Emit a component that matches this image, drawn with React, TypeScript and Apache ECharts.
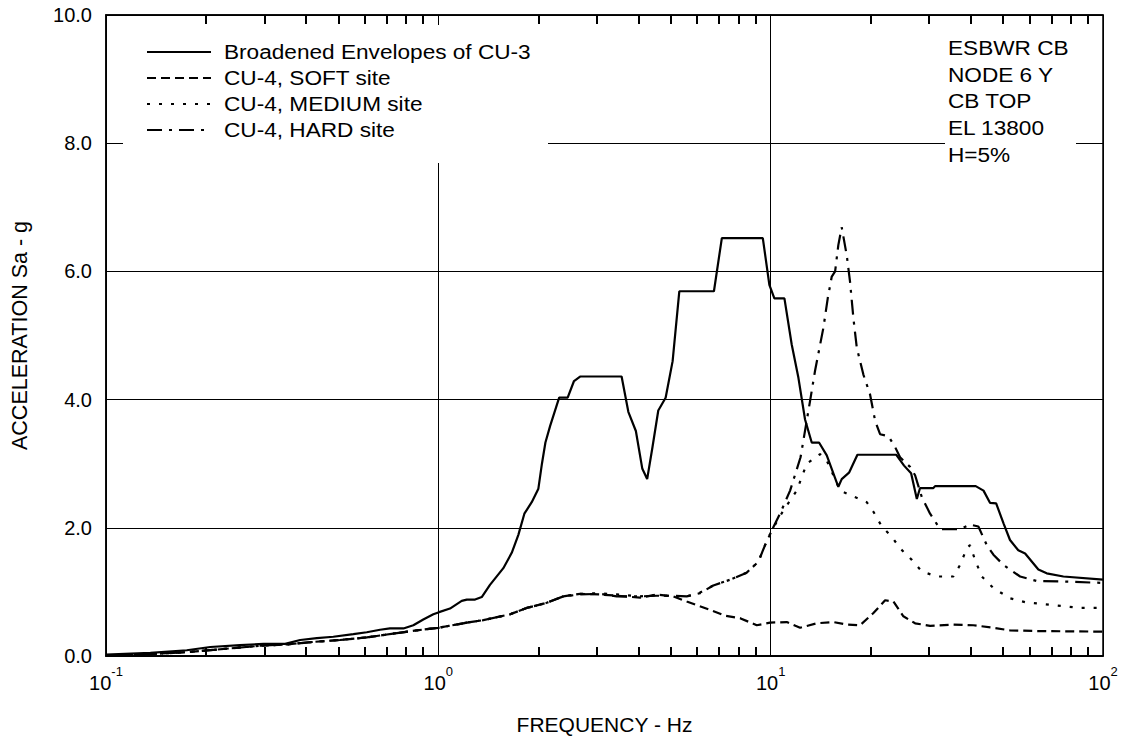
import React, { useEffect, useRef } from "react";
import * as echarts from "echarts";

const FONT = '"Liberation Sans", Arial, sans-serif';

const seriesNames = [
  "Broadened Envelopes of CU-3",
  "CU-4, SOFT site",
  "CU-4, MEDIUM site",
  "CU-4, HARD site",
];

const noteLines = ["ESBWR CB", "NODE 6 Y", "CB TOP", "EL 13800", "H=5%"];

const yTicks = [0, 2, 4, 6, 8, 10];
const minorTickFreq = [
  0.2, 0.3, 0.4, 0.5, 0.6, 0.7, 0.8, 0.9,
  2, 3, 4, 5, 6, 7, 8, 9,
  20, 30, 40, 50, 60, 70, 80, 90,
];

const broadenedFreq = [0.1, 0.136, 0.175, 0.206, 0.253, 0.298, 0.346, 0.384, 0.431, 0.483, 0.555, 0.609, 0.668, 0.715, 0.785, 0.841, 0.901, 0.966, 1.0, 1.084, 1.176, 1.218, 1.29, 1.351, 1.43, 1.569, 1.663, 1.741, 1.815, 1.91, 2.0, 2.05, 2.1, 2.17, 2.31, 2.45, 2.56, 2.67, 3.56, 3.73, 3.93, 4.11, 4.25, 4.41, 4.59, 4.83, 5.07, 5.31, 6.75, 7.13, 9.47, 9.91, 10.26, 11.0, 11.57, 12.12, 12.69, 13.29, 13.98, 14.75, 15.98, 16.36, 17.21, 18.24, 23.85, 25.2, 26.46, 27.53, 28.15, 30.87, 31.24, 41.4, 43.7, 45.7, 47.7, 50.2, 52.5, 55.6, 58.3, 63.9, 67.7, 76.0, 100];
const broadenedSa = [0.02, 0.05, 0.09, 0.14, 0.17, 0.19, 0.19, 0.25, 0.28, 0.3, 0.34, 0.37, 0.41, 0.43, 0.43, 0.48, 0.57, 0.65, 0.68, 0.74, 0.86, 0.88, 0.88, 0.92, 1.11, 1.37, 1.61, 1.89, 2.22, 2.4, 2.61, 3.0, 3.33, 3.59, 4.03, 4.03, 4.29, 4.36, 4.36, 3.81, 3.51, 2.92, 2.76, 3.26, 3.83, 4.03, 4.6, 5.69, 5.69, 6.52, 6.52, 5.79, 5.58, 5.58, 4.86, 4.34, 3.69, 3.33, 3.33, 3.13, 2.64, 2.76, 2.86, 3.14, 3.14, 2.97, 2.85, 2.45, 2.62, 2.62, 2.65, 2.65, 2.58, 2.39, 2.38, 2.07, 1.81, 1.65, 1.6, 1.35, 1.29, 1.24, 1.19];

const softFreq = [0.1, 0.136, 0.175, 0.215, 0.291, 0.35, 0.421, 0.506, 0.609, 0.732, 0.861, 1.0, 1.218, 1.366, 1.644, 1.845, 2.119, 2.378, 2.67, 3.066, 3.44, 4.046, 4.542, 5.095, 5.59, 6.57, 7.29, 8.09, 9.08, 9.96, 11.18, 12.26, 13.76, 15.44, 16.94, 18.58, 20.38, 22.1, 23.4, 25.08, 27.2, 30.18, 35.46, 40.74, 46.8, 52.5, 61.7, 100];
const softSa = [0.0, 0.03, 0.06, 0.1, 0.16, 0.18, 0.22, 0.25, 0.29, 0.35, 0.4, 0.44, 0.52, 0.56, 0.65, 0.75, 0.83, 0.93, 0.97, 0.96, 0.94, 0.91, 0.96, 0.93, 0.85, 0.72, 0.63, 0.59, 0.48, 0.52, 0.53, 0.44, 0.51, 0.53, 0.49, 0.48, 0.67, 0.87, 0.85, 0.62, 0.51, 0.47, 0.49, 0.48, 0.44, 0.4, 0.39, 0.38];

const mediumFreq = [0.1, 0.136, 0.175, 0.215, 0.291, 0.35, 0.421, 0.506, 0.609, 0.732, 0.861, 1.0, 1.218, 1.366, 1.644, 1.845, 2.119, 2.378, 2.67, 3.066, 3.44, 4.046, 4.542, 5.095, 5.59, 6.13, 6.72, 7.55, 8.47, 9.18, 9.62, 10.08, 10.92, 11.98, 12.84, 14.08, 14.75, 16.18, 17.54, 19.46, 20.38, 21.6, 23.15, 24.51, 26.59, 28.49, 31.6, 35.46, 37.15, 38.92, 39.8, 41.2, 43.18, 46.8, 52.5, 58.3, 69.3, 85.3, 100];
const mediumSa = [0.0, 0.03, 0.06, 0.1, 0.16, 0.18, 0.22, 0.25, 0.29, 0.35, 0.4, 0.44, 0.52, 0.56, 0.65, 0.75, 0.83, 0.93, 0.97, 0.98, 0.96, 0.93, 0.95, 0.93, 0.93, 0.99, 1.1, 1.19, 1.3, 1.47, 1.73, 1.96, 2.27, 2.58, 3.0, 3.15, 3.05, 2.58, 2.5, 2.4, 2.25, 2.02, 1.86, 1.68, 1.5, 1.32, 1.24, 1.24, 1.42, 1.68, 1.73, 1.5, 1.24, 1.06, 0.9, 0.84, 0.8, 0.75, 0.75];

const hardFreq = [0.1, 0.136, 0.175, 0.215, 0.291, 0.35, 0.421, 0.506, 0.609, 0.732, 0.861, 1.0, 1.218, 1.366, 1.644, 1.845, 2.119, 2.378, 2.67, 3.066, 3.44, 4.046, 4.542, 5.095, 5.59, 6.13, 6.72, 7.55, 8.47, 9.18, 9.62, 10.08, 10.67, 11.44, 12.3, 13.14, 13.6, 14.41, 14.85, 15.27, 15.63, 15.98, 16.36, 16.94, 17.33, 17.74, 18.16, 19.01, 19.91, 20.62, 21.34, 22.61, 23.68, 24.51, 26.27, 27.2, 28.49, 30.18, 32.35, 37.15, 39.8, 42.17, 44.7, 46.8, 50.2, 56.3, 63.2, 77.8, 100];
const hardSa = [0.0, 0.03, 0.06, 0.1, 0.16, 0.18, 0.22, 0.25, 0.29, 0.35, 0.4, 0.44, 0.52, 0.56, 0.65, 0.75, 0.83, 0.93, 0.96, 0.97, 0.93, 0.93, 0.94, 0.94, 0.93, 0.98, 1.1, 1.19, 1.3, 1.47, 1.73, 1.96, 2.22, 2.58, 3.1, 3.98, 4.45, 5.12, 5.58, 5.92, 6.0, 6.41, 6.69, 6.25, 5.84, 5.27, 4.81, 4.39, 4.08, 3.67, 3.46, 3.43, 3.26, 3.1, 2.95, 2.82, 2.48, 2.22, 1.98, 1.98, 2.05, 2.02, 1.73, 1.58, 1.42, 1.24, 1.17, 1.16, 1.14];

const pairs = (xs: number[], ys: number[]) => xs.map((x, i) => [x, ys[i]]);

const dashStyles: (number[] | "solid")[] = ["solid", [9, 5], [3, 9], [15, 7, 3, 7]];

export default function App() {
  const ref = useRef<HTMLDivElement>(null);

  useEffect(() => {
    if (!ref.current) return;
    const chart = echarts.init(ref.current, undefined, { renderer: "svg" });

    const seriesData = [
      pairs(broadenedFreq, broadenedSa),
      pairs(softFreq, softSa),
      pairs(mediumFreq, mediumSa),
      pairs(hardFreq, hardSa),
    ];

    const yMin = yTicks[0];
    const yMax = yTicks[yTicks.length - 1];

    const lineSeries: any[] = seriesNames.map((name, i) => ({
      name,
      type: "line",
      data: seriesData[i],
      showSymbol: false,
      symbol: "none",
      z: 3 + (3 - i),
      lineStyle: { color: "#000", width: 2.2, type: dashStyles[i] },
      silent: true,
    }));

    const graphics: any[] = [
      { type: "rect", z: 1, shape: { x: 123, y: 25, width: 425, height: 138 }, style: { fill: "#fff" } },
      { type: "rect", z: 1, shape: { x: 945, y: 25, width: 131, height: 145 }, style: { fill: "#fff" } },
    ];
    seriesNames.forEach((name, i) => {
      const y = 52 + i * 26;
      graphics.push({
        type: "line",
        z: 2,
        shape: { x1: 147, y1: y, x2: 211, y2: y },
        style: { stroke: "#000", lineWidth: 2, lineDash: dashStyles[i] === "solid" ? null : dashStyles[i] },
      });
      graphics.push({
        type: "text",
        z: 2,
        x: 224,
        y,
        scaleX: 1.16,
        style: { text: name, fill: "#000", font: `19.5px ${FONT}`, textAlign: "left", textVerticalAlign: "middle" },
      });
    });
    noteLines.forEach((t, i) => {
      graphics.push({
        type: "text",
        z: 2,
        x: 948,
        y: 48 + i * 26.7,
        scaleX: 1.16,
        style: { text: t, fill: "#000", font: `19.5px ${FONT}`, textAlign: "left", textVerticalAlign: "middle" },
      });
    });

    // helper axes that only carry the 2..9 minor ticks (top and bottom)
    const minorTickAxis = (position: "top" | "bottom") => ({
      type: "log",
      logBase: 10,
      min: 0.1,
      max: 100,
      position,
      offset: 0,
      z: 10,
      axisLine: { show: true, lineStyle: { color: "#000", width: 1.5 } },
      axisTick: {
        show: true,
        inside: true,
        length: 9,
        customValues: minorTickFreq,
        lineStyle: { color: "#000", width: 2 },
      },
      minorTick: { show: false },
      axisLabel: { show: false },
      splitLine: { show: false },
    });

    chart.setOption({
      animation: false,
      backgroundColor: "#fff",
      grid: {
        left: 106,
        right: 22,
        top: 15,
        bottom: 80,
        show: true,
        borderColor: "#000",
        borderWidth: 1.5,
        backgroundColor: "transparent",
      },
      xAxis: [
        {
          type: "log",
          logBase: 10,
          min: 0.1,
          max: 100,
          name: "FREQUENCY - Hz",
          nameLocation: "middle",
          nameGap: 58,
          nameTextStyle: { fontFamily: FONT, fontSize: 21, color: "#000" },
          axisLine: { show: true, lineStyle: { color: "#000", width: 1.5 } },
          axisTick: { show: false },
          minorTick: { show: false },
          splitLine: { show: true, lineStyle: { color: "#000", width: 1 } },
          axisLabel: {
            show: true,
            showMinLabel: true,
            showMaxLabel: true,
            margin: 9,
            color: "#000",
            formatter: (v: number) => `{b|10}{s|${Math.round(Math.log10(v))}}`,
            rich: {
              b: { fontFamily: FONT, fontSize: 20, lineHeight: 28, verticalAlign: "bottom", color: "#000" },
              s: { fontFamily: FONT, fontSize: 13, lineHeight: 28, verticalAlign: "top", color: "#000" },
            },
          },
        },
        minorTickAxis("top"),
        minorTickAxis("bottom"),
      ],
      yAxis: {
        type: "value",
        min: yMin,
        max: yMax,
        interval: 2,
        name: "ACCELERATION Sa - g",
        nameLocation: "middle",
        nameGap: 75,
        nameRotate: 90,
        nameTextStyle: { fontFamily: FONT, fontSize: 21.5, color: "#000" },
        axisLine: { show: true, lineStyle: { color: "#000", width: 1.5 } },
        axisTick: { show: true, inside: true, length: 17, lineStyle: { color: "#000", width: 1 } },
        splitLine: { show: true, lineStyle: { color: "#000", width: 1 } },
        axisLabel: {
          margin: 14,
          color: "#000",
          fontFamily: FONT,
          fontSize: 20,
          formatter: (v: number) => v.toFixed(1),
        },
      },
      graphic: { elements: graphics },
      series: lineSeries,
    } as any);

    return () => chart.dispose();
  }, []);

  return (
    <div
      ref={ref}
      style={{ position: "fixed", left: 0, top: 0, width: 1125, height: 740, background: "#fff" }}
    />
  );
}
